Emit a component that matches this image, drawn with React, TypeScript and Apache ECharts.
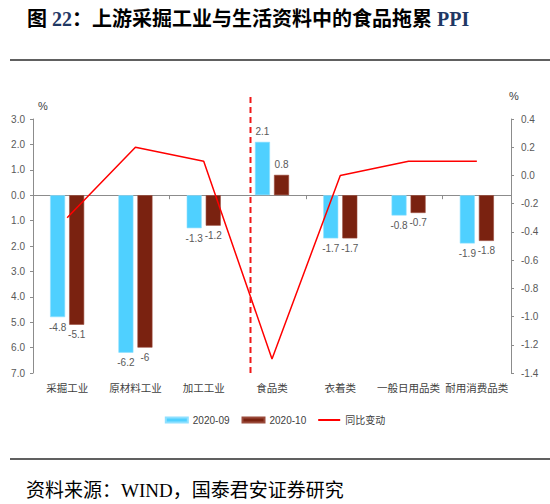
import React, { useEffect, useRef } from "react";
import * as echarts from "echarts";

const categories = ["采掘工业", "原材料工业", "加工工业", "食品类", "衣着类", "一般日用品类", "耐用消费品类"];
const sep2020 = [-4.8, -6.2, -1.3, 2.1, -1.7, -0.8, -1.9];
const oct2020 = [-5.1, -6, -1.2, 0.8, -1.7, -0.7, -1.8];
const yoyChange = [-0.3, 0.2, 0.1, -1.3, 0.0, 0.1, 0.1];
const seriesNames = ["2020-09", "2020-10", "同比变动"];

const LATIN = "'Liberation Sans', Arial, 'Noto Sans CJK SC', sans-serif";
const SERIF = "'Liberation Serif', 'Times New Roman', 'Noto Sans CJK SC', serif";

function barData(vals: number[]) {
  return vals.map((v) => ({
    value: v,
    label: { position: v < 0 ? "bottom" : "top" },
  }));
}

export default function App() {
  const ref = useRef<HTMLDivElement>(null);
  useEffect(() => {
    if (!ref.current) return;
    const chart = echarts.init(ref.current, undefined, { renderer: "svg" });
    const labelCommon = {
      show: true,
      distance: 5,
      fontSize: 10,
      color: "#595959",
      fontFamily: LATIN,
      formatter: (p: any) => String(p.value),
    };
    chart.setOption({
      animation: false,
      backgroundColor: "#ffffff",
      title: {
        text: "图 {n|22}：上游采掘工业与生活资料中的食品拖累 {n|PPI}",
        left: 22,
        top: 4,
        textStyle: {
          fontSize: 20,
          fontWeight: "bold",
          color: "#000000",
          fontFamily: SERIF,
          rich: {
            n: { fontSize: 20, fontWeight: "bold", color: "#1F3864", fontFamily: SERIF },
          },
        },
      },
      legend: {
        data: [
          { name: seriesNames[0], icon: "rect" },
          { name: seriesNames[1], icon: "rect" },
          { name: seriesNames[2], icon: "path://M0 0H22V2H0Z" },
        ],
        left: "center",
        top: 410,
        itemWidth: 22,
        itemHeight: 5,
        itemGap: 12,
        textStyle: { fontSize: 10, color: "#404040", fontFamily: LATIN },
      },
      grid: { left: 33, right: 39, top: 119, bottom: 131, containLabel: false },
      xAxis: [
        {
          type: "category",
          data: categories,
          position: "bottom",
          axisLine: { show: false, onZero: false },
          axisTick: { show: false },
          axisLabel: {
            interval: 0,
            margin: 9,
            fontSize: 10.5,
            color: "#404040",
            fontFamily: "'Noto Sans CJK SC', sans-serif",
          },
        },
        {
          type: "category",
          data: categories,
          position: "top",
          axisLine: { show: true, onZero: true, onZeroAxisIndex: 0, lineStyle: { color: "#8c8c8c", width: 1 } },
          axisTick: { show: true, inside: true, length: 4, lineStyle: { color: "#8c8c8c" } },
          axisLabel: { show: false },
        },
      ],
      yAxis: [
        {
          type: "value",
          min: -7,
          max: 3,
          interval: 1,
          name: "%",
          nameLocation: "end",
          nameGap: 8,
          nameTextStyle: { fontSize: 11, color: "#404040", fontFamily: LATIN, padding: [0, 0, 0, 20] },
          axisLine: { show: true, lineStyle: { color: "#8c8c8c" } },
          axisTick: { show: true, length: 3, lineStyle: { color: "#8c8c8c" } },
          splitLine: { show: false },
          axisLabel: {
            fontSize: 10,
            color: "#595959",
            fontFamily: LATIN,
            margin: 8,
            formatter: (v: number) => Math.abs(v).toFixed(1),
          },
        },
        {
          type: "value",
          min: -1.4,
          max: 0.4,
          interval: 0.2,
          position: "right",
          name: "%",
          nameLocation: "end",
          nameGap: 18,
          nameTextStyle: { fontSize: 11, color: "#404040", fontFamily: LATIN, padding: [0, 0, 0, 6] },
          axisLine: { show: true, lineStyle: { color: "#8c8c8c" } },
          axisTick: { show: true, length: 3, lineStyle: { color: "#8c8c8c" } },
          splitLine: { show: false },
          axisLabel: {
            fontSize: 10,
            color: "#595959",
            fontFamily: LATIN,
            margin: 10,
            formatter: (v: number) => (Math.abs(v) < 1e-9 ? "0.0" : v.toFixed(1)),
          },
        },
      ],
      series: [
        {
          name: seriesNames[0],
          type: "bar",
          xAxisIndex: 0,
          yAxisIndex: 0,
          data: barData(sep2020),
          barWidth: 15,
          barGap: "27%",
          itemStyle: { color: "#4FD0FF", borderColor: "#8FE0FF", borderWidth: 0.6 },
          label: labelCommon,
        },
        {
          name: seriesNames[1],
          type: "bar",
          xAxisIndex: 0,
          yAxisIndex: 0,
          data: barData(oct2020),
          barWidth: 15,
          barGap: "27%",
          itemStyle: { color: "#7A2210", borderColor: "#9A4A3A", borderWidth: 0.6 },
          label: labelCommon,
        },
        {
          name: seriesNames[2],
          type: "line",
          xAxisIndex: 0,
          yAxisIndex: 1,
          data: yoyChange,
          symbol: "none",
          showSymbol: false,
          lineStyle: { color: "#FF0000", width: 1.5 },
          itemStyle: { color: "#FF0000" },
          z: 5,
        },
      ],
      graphic: [
        {
          type: "line",
          shape: { x1: 10, y1: 60, x2: 550, y2: 60 },
          style: { stroke: "#606060", lineWidth: 2 },
        },
        {
          type: "line",
          shape: { x1: 10, y1: 459, x2: 550, y2: 459 },
          style: { stroke: "#606060", lineWidth: 2 },
        },
        {
          type: "line",
          shape: { x1: 250.5, y1: 97, x2: 250.5, y2: 375 },
          style: { stroke: "#F01818", lineWidth: 2, lineDash: [6, 4] },
          z: 10,
        },
        {
          type: "text",
          left: 26,
          top: 481,
          style: {
            text: "资料来源：WIND，国泰君安证券研究",
            fontSize: 19,
            fill: "#000000",
            fontFamily: SERIF,
          },
        },
      ],
    });
    return () => chart.dispose();
  }, []);
  return (
    <div
      ref={ref}
      style={{ position: "fixed", left: 0, top: 0, width: 550, height: 504, background: "#fff" }}
    />
  );
}
